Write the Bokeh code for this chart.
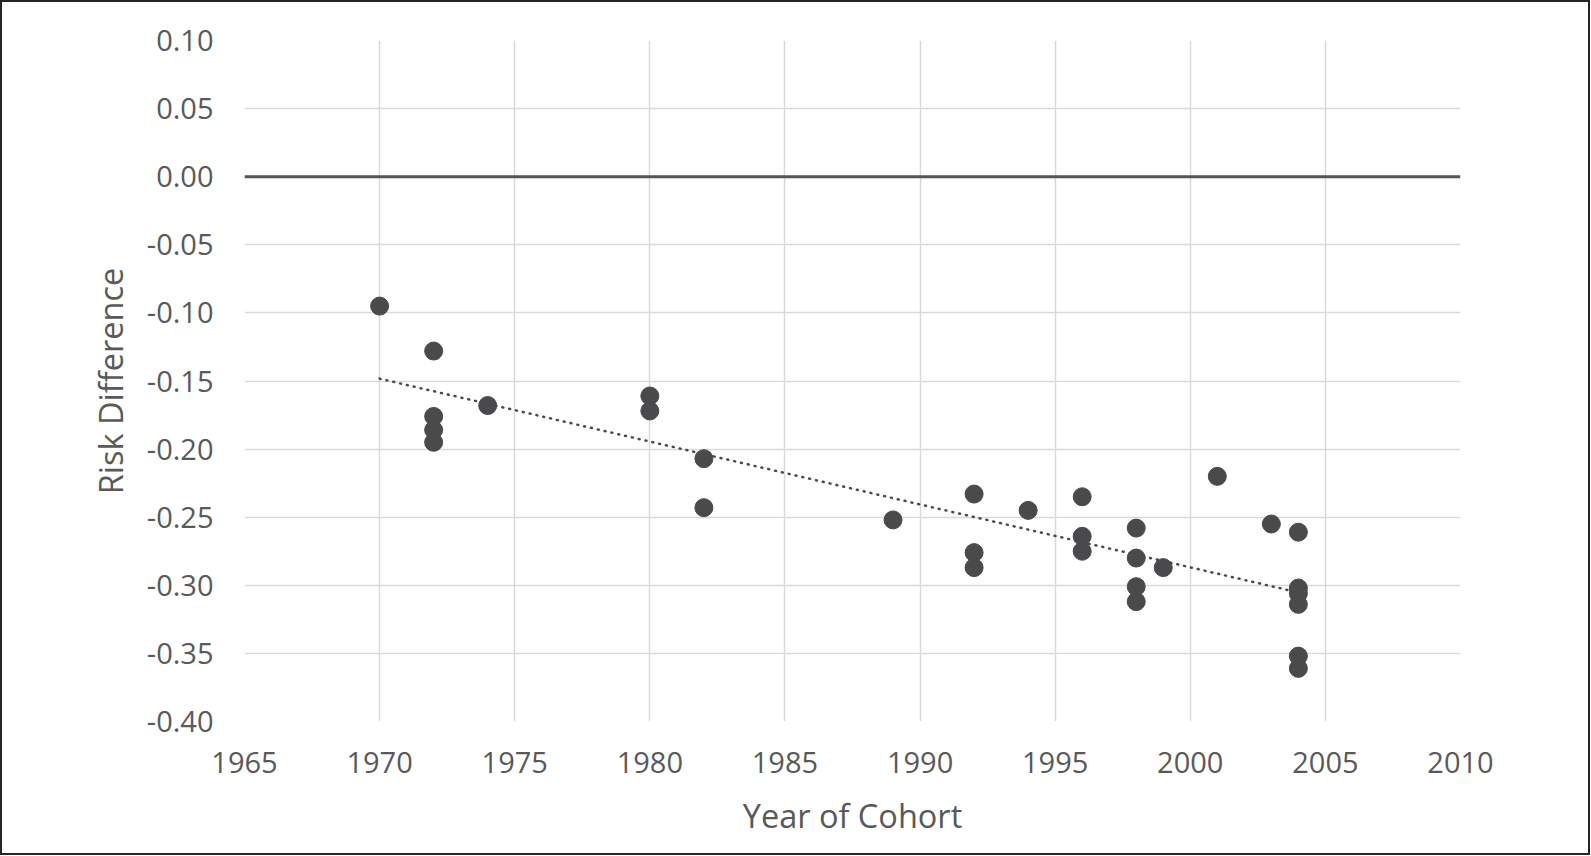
import numpy as np
from bokeh.plotting import figure
from bokeh.models import FixedTicker, Span, ColumnDataSource, NumeralTickFormatter
from bokeh.embed import file_html
from bokeh.resources import INLINE

# ---- data ----
years = [1970, 1972, 1972, 1972, 1972, 1974, 1980, 1980, 1982, 1982, 1989,
         1992, 1992, 1992, 1994, 1996, 1996, 1996, 1998, 1998, 1998, 1998,
         1999, 2001, 2003, 2004, 2004, 2004, 2004, 2004, 2004]
risk_diff = [-0.095, -0.128, -0.176, -0.186, -0.195, -0.168, -0.161, -0.172,
             -0.207, -0.243, -0.252, -0.233, -0.276, -0.287, -0.245, -0.235,
             -0.264, -0.275, -0.258, -0.280, -0.301, -0.312, -0.287, -0.220,
             -0.255, -0.261, -0.302, -0.306, -0.314, -0.352, -0.361]
x_ticks = [1965, 1970, 1975, 1980, 1985, 1990, 1995, 2000, 2005, 2010]
y_ticks = [0.10, 0.05, 0.00, -0.05, -0.10, -0.15, -0.20, -0.25, -0.30, -0.35, -0.40]

TXT = "#595959"
FONT = "Open Sans"
FS = "29px"

p = figure(width=1586, height=851, output_backend="svg", toolbar_location=None,
           x_range=(1965, 2010), y_range=(-0.40, 0.10),
           frame_width=1216, frame_height=681,
           min_border_left=242, min_border_right=128,
           min_border_top=38, min_border_bottom=132,
           x_axis_label="Year of Cohort", y_axis_label="Risk Difference")
p.styles = {"border": "2px solid #262626"}
p.outline_line_color = None
p.background_fill_color = "white"
p.border_fill_color = "white"

p.xaxis.ticker = FixedTicker(ticks=x_ticks)
p.yaxis.ticker = FixedTicker(ticks=y_ticks)
p.yaxis.formatter = NumeralTickFormatter(format="0.00")

for ax in (p.xaxis[0], p.yaxis[0]):
    ax.axis_line_color = None
    ax.major_tick_line_color = None
    ax.minor_tick_line_color = None
    ax.major_label_text_font = FONT
    ax.major_label_text_font_size = FS
    ax.major_label_text_color = TXT
    ax.axis_label_text_font = FONT
    ax.axis_label_text_font_size = "32.5px"
    ax.axis_label_text_color = TXT
    ax.axis_label_text_font_style = "normal"
p.xaxis.major_label_standoff = 24
p.xaxis.axis_label_standoff = 17
p.yaxis.major_label_standoff = 25
p.yaxis.axis_label_standoff = 11

p.grid.grid_line_color = "#d9d9d9"
p.grid.grid_line_width = 1.5

p.add_layout(Span(location=0, dimension="width", line_color="#555555", line_width=3))

# linear trendline (least squares), spanning the data range
coef = np.polyfit(years, risk_diff, 1)
tx = [min(years), max(years)]
ty = [coef[0] * v + coef[1] for v in tx]
p.line(tx, ty, line_color="#4a4a4c", line_width=2.5, line_dash="1 6", line_cap="round")

src = ColumnDataSource(dict(x=years, y=risk_diff))
p.scatter("x", "y", source=src, size=18, fill_color="#4a4a4c", line_color="#4a4a4c")

open("out.html", "w").write(file_html(p, INLINE))
